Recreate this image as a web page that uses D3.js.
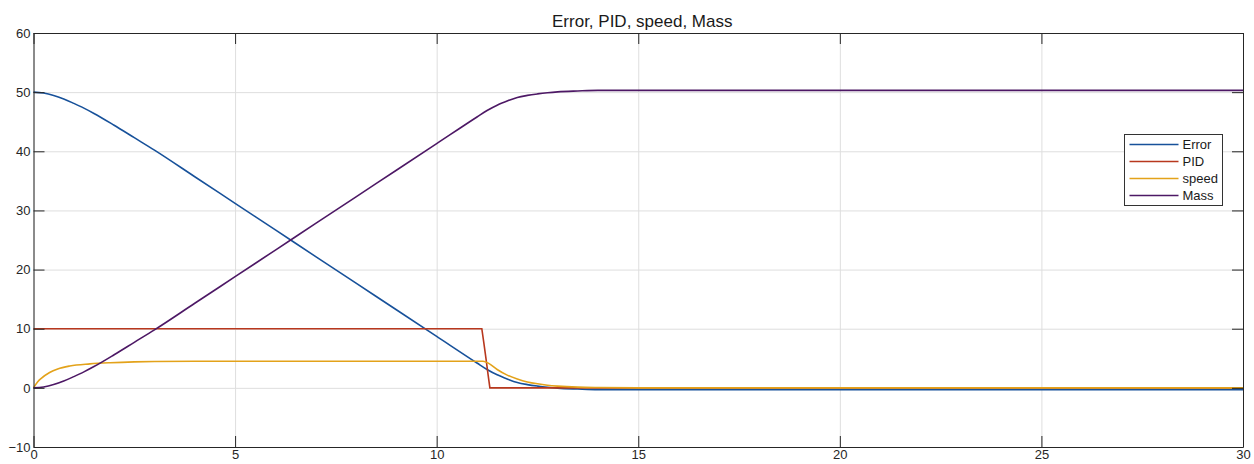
<!DOCTYPE html>
<html>
<head>
<meta charset="utf-8">
<script src="https://cdn.jsdelivr.net/npm/d3@7"></script>
<style>
  html, body { margin: 0; padding: 0; background: #fff; }
  svg { display: block; font-family: "Liberation Sans", Arial, sans-serif; }
</style>
</head>
<body>
<svg id="chart" width="1254" height="464"></svg>
<script>
// values
const seriesNames = ["Error", "PID", "speed", "Mass"];
const seriesColors = ["#17519a", "#b8381e", "#e3a21a", "#4d1865"];

const tMass = [0, 0.25, 0.5, 0.75, 1, 1.25, 1.5, 2, 2.5, 3, 4, 5, 6, 7, 8, 9, 10, 11, 11.25, 11.5, 11.75, 12, 12.25, 12.5, 12.75, 13, 13.5, 14, 15, 20, 25, 30];
const massVals = [0, 0.15, 0.55, 1.15, 1.9, 2.7, 3.6, 5.6, 7.7, 9.8, 14.3, 18.8, 23.3, 27.8, 32.3, 36.8, 41.3, 45.8, 46.9, 47.8, 48.5, 49.1, 49.45, 49.7, 49.9, 50.05, 50.2, 50.3, 50.3, 50.3, 50.3, 50.3];
const errorVals = [50, 49.85, 49.45, 48.85, 48.1, 47.3, 46.4, 44.4, 42.3, 40.2, 35.7, 31.2, 26.7, 22.2, 17.7, 13.2, 8.7, 4.2, 3.1, 2.2, 1.5, 0.9, 0.55, 0.3, 0.1, -0.05, -0.2, -0.3, -0.3, -0.3, -0.3, -0.3];

const tSpeed = [0, 0.1, 0.2, 0.4, 0.6, 0.9, 1.4, 1.9, 2.5, 3, 4, 11.15, 11.3, 11.5, 11.75, 12, 12.25, 12.5, 12.75, 13, 13.5, 14, 15, 30];
const speedVals = [0, 1.0, 1.65, 2.6, 3.2, 3.7, 4.05, 4.25, 4.4, 4.46, 4.5, 4.5, 4.1, 3.1, 2.15, 1.5, 1.0, 0.68, 0.45, 0.3, 0.12, 0.05, 0, 0];

const tPid = [0, 11.12, 11.17, 11.22, 11.27, 11.32, 30];
const pidVals = [10, 10, 7.6, 5.1, 2.5, 0, 0];

const xTicks = [0, 5, 10, 15, 20, 25, 30];
const yTicks = [-10, 0, 10, 20, 30, 40, 50, 60];

const W = 1254, H = 464;
const margin = { top: 33, right: 11, bottom: 17, left: 33.5 };

const svg = d3.select("#chart");
const x = d3.scaleLinear().domain([0, 30]).range([margin.left, W - margin.right]);
const y = d3.scaleLinear().domain([-10, 60]).range([H - margin.bottom, margin.top]);

const zip = (ts, vs) => ts.map((t, i) => [t, vs[i]]);
const series = [
  { data: zip(tMass, errorVals), curve: d3.curveMonotoneX },
  { data: zip(tPid, pidVals), curve: d3.curveLinear },
  { data: zip(tSpeed, speedVals), curve: d3.curveMonotoneX },
  { data: zip(tMass, massVals), curve: d3.curveMonotoneX }
];

// grid
const grid = svg.append("g").attr("class", "grid");
grid.append("g")
  .attr("transform", `translate(0,${H - margin.bottom})`)
  .call(d3.axisBottom(x).tickValues(xTicks).tickSize(-(H - margin.top - margin.bottom)).tickFormat(""));
grid.append("g")
  .attr("transform", `translate(${margin.left},0)`)
  .call(d3.axisLeft(y).tickValues(yTicks).tickSize(-(W - margin.left - margin.right)).tickFormat(""));
grid.selectAll(".domain").remove();
grid.selectAll("line").attr("stroke", "#dedede").attr("stroke-width", 1);

// lines
const line = d3.line().x(d => x(d[0])).y(d => y(d[1]));
series.forEach((s, i) => {
  svg.append("path")
    .datum(s.data)
    .attr("fill", "none")
    .attr("stroke", seriesColors[i])
    .attr("stroke-width", 1.6)
    .attr("d", line.curve(s.curve));
});

// axes, ticks point inwards like matlab
const axisColor = "#262626";
function styleAxis(g) {
  g.selectAll(".domain").attr("stroke", axisColor);
  g.selectAll(".tick line").attr("stroke", axisColor);
  g.selectAll(".tick text").attr("fill", "#262626").style("font-size", "13px").style("font-family", "'Liberation Sans', Arial, sans-serif");
}
svg.append("g")
  .attr("transform", `translate(0,${H - margin.bottom})`)
  .call(d3.axisBottom(x).tickValues(xTicks).tickSizeInner(-11).tickSizeOuter(0).tickPadding(3))
  .call(styleAxis);
svg.append("g")
  .attr("transform", `translate(${margin.left},0)`)
  .call(d3.axisLeft(y).tickValues(yTicks).tickSizeInner(-11).tickSizeOuter(0).tickPadding(3))
  .call(styleAxis);
svg.append("g")
  .attr("transform", `translate(0,${margin.top})`)
  .call(d3.axisTop(x).tickValues(xTicks).tickSizeInner(-11).tickSizeOuter(0).tickFormat(""))
  .call(styleAxis);
svg.append("g")
  .attr("transform", `translate(${W - margin.right},0)`)
  .call(d3.axisRight(y).tickValues(yTicks).tickSizeInner(-11).tickSizeOuter(0).tickFormat(""))
  .call(styleAxis);

// title
svg.append("text")
  .attr("x", (margin.left + W - margin.right) / 2 + 4)
  .attr("y", 27)
  .attr("text-anchor", "middle")
  .attr("fill", "#1a1a1a")
  .style("font-size", "17px")
  .text("Error, PID, speed, Mass");

// legend
const legend = svg.append("g").attr("transform", "translate(1124.5,134.5)");
legend.append("rect")
  .attr("width", 98).attr("height", 71)
  .attr("fill", "#fff").attr("stroke", "#333").attr("stroke-width", 1);
seriesNames.forEach((name, i) => {
  const cy = 10 + i * 17;
  legend.append("line")
    .attr("x1", 5).attr("x2", 54).attr("y1", cy).attr("y2", cy)
    .attr("stroke", seriesColors[i]).attr("stroke-width", 1.3);
  legend.append("text")
    .attr("x", 58).attr("y", cy).attr("dy", "0.35em")
    .attr("fill", "#1a1a1a")
    .style("font-size", "13px")
    .text(name);
});
</script>
</body>
</html>
